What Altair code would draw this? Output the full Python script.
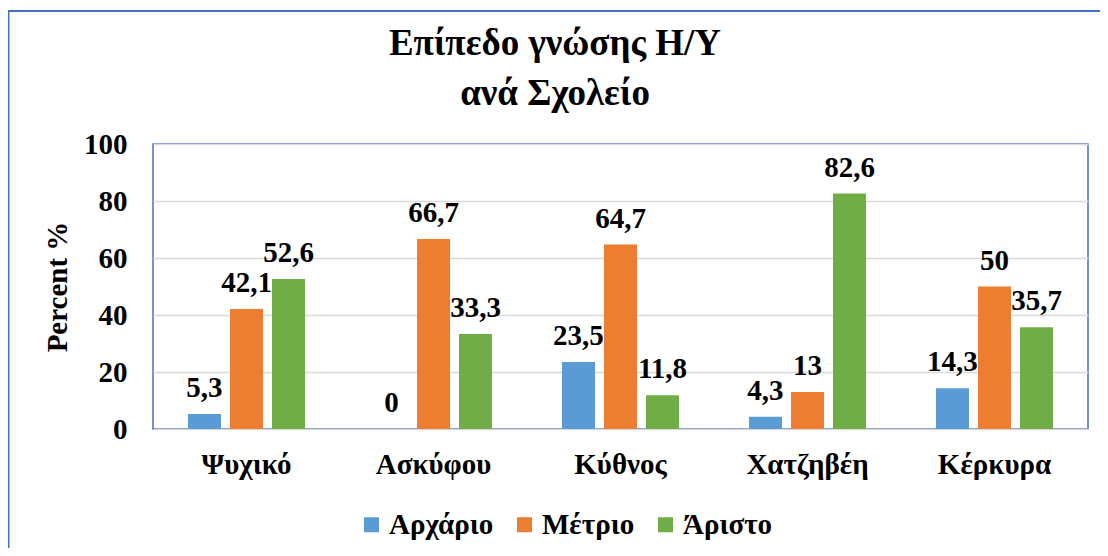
import altair as alt
import pandas as pd

schools = ["Ψυχικό", "Ασκύφου", "Κύθνος", "Χατζηβέη", "Κέρκυρα"]
levels = ["Αρχάριο", "Μέτριο", "Άριστο"]
beginner = [5.3, 0, 23.5, 4.3, 14.3]
medium = [42.1, 66.7, 64.7, 13, 50]
excellent = [52.6, 33.3, 11.8, 82.6, 35.7]
colors = ["#5B9BD5", "#ED7D31", "#70AD47"]
title_lines = ["Επίπεδο γνώσης Η/Υ", "ανά Σχολείο"]

rows = []
for i, s in enumerate(schools):
    for lvl, vals in zip(levels, [beginner, medium, excellent]):
        rows.append({"school": s, "level": lvl, "value": vals[i]})
df = pd.DataFrame(rows)

FONT = "Liberation Serif"
FS = 29
W, H = 935, 285

base = alt.Chart(df).transform_calculate(
    label="replace(toString(datum.value), '.', ',')"
).encode(
    x=alt.X("school:N", sort=schools, title=None,
            scale=alt.Scale(paddingInner=0.374, paddingOuter=0.187),
            axis=alt.Axis(labelAngle=0, labelFont=FONT, labelFontSize=FS, labelFontWeight="bold",
                          labelColor="black", labelPadding=21, ticks=False, domain=False)),
    xOffset=alt.XOffset("level:N", sort=levels,
                        scale=alt.Scale(paddingInner=0.214, paddingOuter=0)),
)

bars = base.mark_bar().encode(
    y=alt.Y("value:Q", title="Percent %",
            scale=alt.Scale(domain=[0, 100]),
            axis=alt.Axis(values=[0, 20, 40, 60, 80, 100], labelFont=FONT, labelFontSize=FS,
                          labelFontWeight="bold", labelColor="black", labelPadding=26,
                          ticks=False, domain=False, gridColor="#D9D9D9", gridWidth=1.5,
                          titleFont=FONT, titleFontSize=FS, titleFontWeight="bold",
                          titleColor="black", titlePadding=11)),
    color=alt.Color("level:N", sort=levels,
                    scale=alt.Scale(domain=levels, range=colors),
                    legend=alt.Legend(title=None, orient="none", direction="horizontal",
                                      legendX=204, legendY=366,
                                      symbolType="square", symbolSize=225,
                                      symbolStrokeWidth=0,
                                      labelFont=FONT, labelFontSize=FS, labelFontWeight="bold",
                                      labelColor="black", columnPadding=16, labelOffset=3)),
)

labels = base.mark_text(font=FONT, fontSize=FS, fontWeight="bold", color="black",
                        baseline="bottom", dy=-11).encode(
    y=alt.Y("value:Q"),
    text="label:N",
)

border = alt.Chart(pd.DataFrame({"a": [0]})).mark_rect(
    fill="transparent", stroke="#4472C4", strokeWidth=2
).encode(
    x=alt.value(-144.5), x2=alt.value(2000),
    y=alt.value(-133), y2=alt.value(2000),
)

title = alt.Chart(pd.DataFrame({"t": ["\n".join(title_lines)]})).mark_text(
    font=FONT, fontSize=37, fontWeight="bold", color="black", align="center",
    baseline="top", lineBreak="\n", lineHeight=50
).encode(
    x=alt.value(402), y=alt.value(-118), text="t:N"
)

chart = alt.layer(border, bars, labels, title).properties(
    width=W, height=H,
    padding={"left": 145, "top": 136, "right": 12, "bottom": 119},
    autosize=alt.AutoSizeParams(type="none"),
).configure_view(stroke="#4472C4", strokeWidth=1.5)

chart.save("out.html", embed_options={"renderer": "svg", "actions": False})
